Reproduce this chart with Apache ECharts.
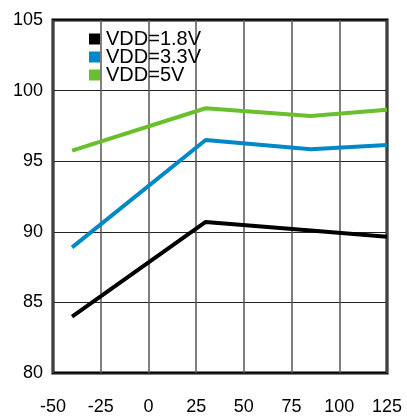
<!DOCTYPE html>
<html>
<head>
<meta charset="utf-8">
<script src="https://cdn.jsdelivr.net/npm/echarts@6/dist/echarts.min.js"></script>
<style>
  html, body { margin: 0; padding: 0; background: #fff; }
  #chart { width: 407px; height: 419px; }
</style>
</head>
<body>
<div id="chart"></div>
<script>
// temperature (°C) and values per supply voltage
var temps = [-40, 30, 85, 125];
var vdd18 = [84.0, 90.7, 90.1, 89.65];
var vdd33 = [88.9, 96.5, 95.85, 96.15];
var vdd5 = [95.75, 98.75, 98.2, 98.65];
var names = ['VDD=1.8V', 'VDD=3.3V', 'VDD=5V'];

function pairs(ys) {
    return temps.map(function (t, i) { return [t, ys[i]]; });
}

var chart = echarts.init(document.getElementById('chart'));

var labelFont = { color: '#000', fontSize: 18, fontFamily: 'Liberation Sans, Arial, sans-serif' };

var option = {
    animation: false,
    grid: {
        left: 53, right: 20, top: 20, bottom: 46,
        show: true,
        borderColor: '#000',
        borderWidth: 3,
        backgroundColor: 'transparent'
    },
    legend: {
        orient: 'vertical',
        left: 89,
        top: 29,
        padding: 0,
        itemGap: -2,
        itemWidth: 11,
        itemHeight: 11,
        icon: 'rect',
        data: names,
        textStyle: {
            color: '#000', fontSize: 20, lineHeight: 17,
            fontFamily: 'Liberation Sans, Arial, sans-serif',
            padding: [0, 0, 0, 1]
        }
    },
    xAxis: {
        type: 'value',
        min: -50, max: 125, interval: 25,
        axisLine: { show: false },
        axisTick: { show: false },
        axisLabel: Object.assign({ margin: 25 }, labelFont),
        splitLine: { show: true, lineStyle: { color: '#555', width: 1.5 } }
    },
    yAxis: {
        type: 'value',
        min: 80, max: 105, interval: 5,
        axisLine: { show: false },
        axisTick: { show: false },
        axisLabel: Object.assign({ margin: 10 }, labelFont),
        splitLine: { show: true, lineStyle: { color: '#222', width: 1 } }
    },
    series: [
        { name: names[0], type: 'line', data: pairs(vdd18), symbol: 'none', itemStyle: { color: '#000' }, lineStyle: { color: '#000', width: 4 } },
        { name: names[1], type: 'line', data: pairs(vdd33), symbol: 'none', itemStyle: { color: '#0088c8' }, lineStyle: { color: '#0088c8', width: 4 } },
        { name: names[2], type: 'line', data: pairs(vdd5), symbol: 'none', itemStyle: { color: '#6abf2e' }, lineStyle: { color: '#6abf2e', width: 4 } }
    ]
};

chart.setOption(option);
</script>
</body>
</html>
